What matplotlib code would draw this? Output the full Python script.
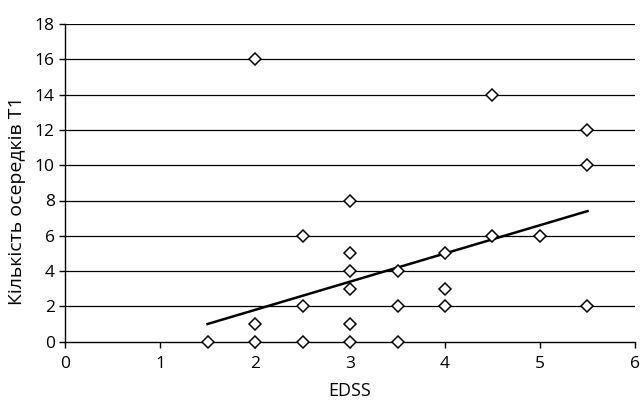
import matplotlib
matplotlib.use("Agg")
import matplotlib.pyplot as plt

# EDSS score vs number of T1 lesions
edss = [1.5, 2, 2, 2, 2.5, 2.5, 2.5, 3, 3, 3, 3, 3, 3,
        3.5, 3.5, 3.5, 4, 4, 4, 4.5, 4.5, 5, 5.5, 5.5, 5.5]
lesions = [0, 0, 1, 16, 0, 2, 6, 0, 1, 3, 4, 5, 8,
           0, 2, 4, 2, 3, 5, 6, 14, 6, 2, 10, 12]

# linear trend line ends as drawn
trend_x = [1.5, 5.5]
trend_y = [1.0, 7.4]

xticks = [0, 1, 2, 3, 4, 5, 6]
yticks = [0, 2, 4, 6, 8, 10, 12, 14, 16, 18]

plt.rcParams['font.family'] = ['Open Sans', 'DejaVu Sans']

fig = plt.figure(figsize=(6.44, 4.01), dpi=100)
ax = fig.add_axes([0.101, 0.148, 0.885, 0.792])

for y in yticks[1:]:
    ax.axhline(y, color='black', lw=0.9, zorder=1)

ax.plot(trend_x, trend_y, color='black', lw=1.8, zorder=2)
ax.plot(edss, lesions, linestyle='none', marker='D', markersize=6.5,
        markerfacecolor='white', markeredgecolor='black', markeredgewidth=1.1,
        zorder=3, clip_on=False)

ax.set_xlim(0, 6)
ax.set_ylim(0, 18)
ax.set_xticks(xticks)
ax.set_yticks(yticks)
ax.spines['top'].set_visible(False)
ax.spines['right'].set_visible(False)
ax.spines['left'].set_linewidth(1.0)
ax.spines['bottom'].set_linewidth(1.0)
ax.tick_params(axis='both', direction='out', length=4, width=1.0, labelsize=12.5)
ax.tick_params(axis='x', pad=6)

ax.set_xlabel('EDSS', fontsize=13)
ax.set_ylabel('Кількість осередків Т1', fontsize=14)
ax.xaxis.set_label_coords(0.5, -0.128)
ax.yaxis.set_label_coords(-0.068, 0.445)

fig.savefig('out.png', dpi=100)
